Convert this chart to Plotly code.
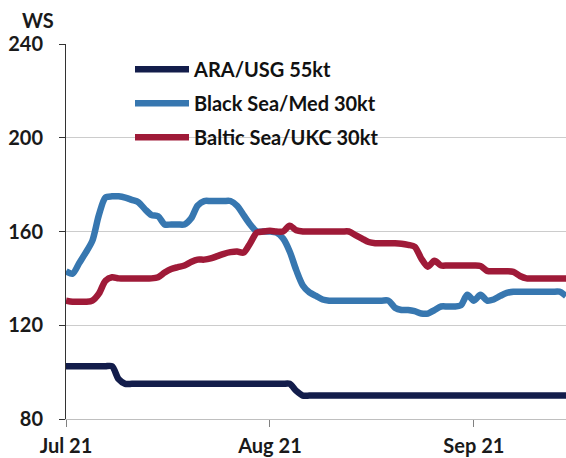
import pandas as pd
import plotly.graph_objects as go

dates = pd.date_range("2021-07-01", "2021-09-15", freq="D")

ara_usg = [
    102.5, 102.5, 102.5, 102.5, 102.5, 102.5, 102.5, 102.5, 97, 95,
    95, 95, 95, 95, 95, 95, 95, 95, 95, 95,
    95, 95, 95, 95, 95, 95, 95, 95, 95, 95,
    95, 95, 95, 95, 95, 92, 90, 90, 90, 90,
    90, 90, 90, 90, 90, 90, 90, 90, 90, 90,
    90, 90, 90, 90, 90, 90, 90, 90, 90, 90,
    90, 90, 90, 90, 90, 90, 90, 90, 90, 90,
    90, 90, 90, 90, 90, 90, 90,
]

black_sea_med = [
    143, 142, 146.5, 151, 156, 167, 174.5, 175, 175, 174.5,
    173.5, 172.5, 169.5, 167, 166.5, 163, 163, 163, 163, 165.5,
    171, 173, 173, 173, 173, 173, 171, 167, 163, 160,
    160, 160, 159.5, 157, 151.5, 143.5, 137, 134, 132.5, 131,
    130.5, 130.5, 130.5, 130.5, 130.5, 130.5, 130.5, 130.5, 130.5, 130.5,
    127.5, 126.5, 126.5, 126, 125, 125, 126.5, 128, 128, 128,
    128.5, 133, 130.5, 133, 130.5, 131, 132.5, 133.8, 134.3, 134.3,
    134.3, 134.3, 134.3, 134.3, 134.3, 134.3, 132.5,
]

baltic_ukc = [
    130.5, 130, 130, 130, 130.5, 133.5, 139, 140.5, 140, 140,
    140, 140, 140, 140, 140.5, 142.5, 144, 144.8, 145.5, 147,
    148, 148, 148.5, 149.5, 150.5, 151.2, 151.5, 151, 155, 159.5,
    160, 160.3, 160, 160, 162.5, 160.5, 160, 160, 160, 160,
    160, 160, 160, 160, 158.5, 157, 155.5, 155, 155, 155,
    155, 154.8, 154.3, 153.5, 148.5, 145, 147.5, 145.5, 145.5, 145.5,
    145.5, 145.5, 145.5, 145.3, 143.2, 143, 143, 143, 142.8, 141,
    140, 140, 140, 140, 140, 140, 140,
]

series_names = ["ARA/USG 55kt", "Black Sea/Med 30kt", "Baltic Sea/UKC 30kt"]
series_values = [ara_usg, black_sea_med, baltic_ukc]
series_colors = ["#131d4b", "#3777b0", "#9f1a38"]

x_tick_vals = ["2021-07-01", "2021-08-01", "2021-09-01"]
x_tick_text = ["Jul 21", "Aug 21", "Sep 21"]
y_tick_vals = [80, 120, 160, 200, 240]

FONT = "Lato"

fig = go.Figure()
for name, vals, col in zip(series_names, series_values, series_colors):
    fig.add_trace(go.Scatter(
        x=dates, y=vals, name=name, mode="lines", legendgroup=name,
        line=dict(color=col, width=6.5, shape="spline", smoothing=0.8),
    ))

fig.update_layout(
    width=566, height=458,
    margin=dict(l=66, r=0, t=44, b=39, autoexpand=False),
    paper_bgcolor="white", plot_bgcolor="white",
    font=dict(family=FONT, size=20, color="#1a1a1a"),
    showlegend=True,
    legend=dict(
        x=0.128, y=0.985, xanchor="left", yanchor="top",
        bgcolor="rgba(0,0,0,0)", itemwidth=54,
        font=dict(family=FONT, size=20, color="#111111", weight="bold"),
        traceorder="grouped", tracegroupgap=5,
    ),
    xaxis=dict(
        type="date", range=["2021-07-01", "2021-09-15"],
        tickvals=x_tick_vals, ticktext=x_tick_text,
        showgrid=False, showline=True, linecolor="#bfbfbf", linewidth=1,
        ticks="outside", ticklen=7, tickcolor="#808080",
        ticklabelstandoff=2,
        tickfont=dict(family=FONT, size=20, color="#1a1a1a", weight="bold"),
        zeroline=False,
    ),
    yaxis=dict(
        range=[80, 240], tickvals=y_tick_vals,
        showgrid=True, gridcolor="#cccccc", gridwidth=1,
        showline=True, linecolor="#333333", linewidth=1,
        ticks="outside", ticklen=6, tickcolor="#333333",
        ticklabelstandoff=12,
        tickfont=dict(family=FONT, size=20, color="#1a1a1a", weight="bold"),
        zeroline=False,
    ),
    annotations=[dict(
        text="WS", xref="paper", yref="paper", x=-0.056, y=1.0,
        xanchor="center", yanchor="bottom", yshift=10, showarrow=False,
        font=dict(family=FONT, size=20, color="#1a1a1a", weight="bold"),
    )],
)

fig.write_html(
    "out.html",
    config={"displayModeBar": False},
    post_script="document.body.style.margin='0px';document.body.style.overflow='hidden';",
)
